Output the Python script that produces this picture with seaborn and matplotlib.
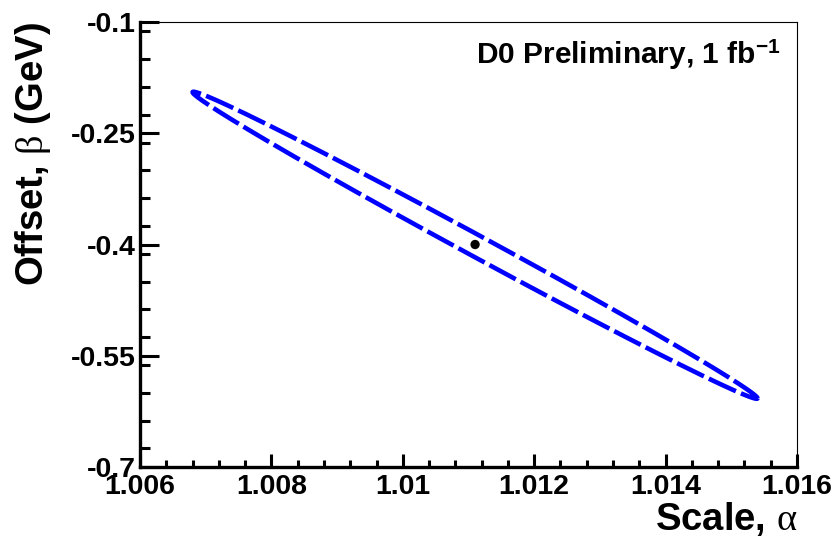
import numpy as np
import pandas as pd
import matplotlib
matplotlib.use("Agg")
import matplotlib.pyplot as plt
from matplotlib.ticker import MultipleLocator, FixedLocator
import seaborn as sns

# ---- data ----
fit_alpha = [1.0111]          # best-fit scale
fit_beta = [-0.400]           # best-fit offset (GeV)
contour_center = [1.0111, -0.401]
sigma_alpha = 0.0043
sigma_beta = 0.207
correlation = -0.9969
x_ticks = [1.006, 1.008, 1.010, 1.012, 1.014, 1.016]
x_tick_labels = ["1.006", "1.008", "1.01", "1.012", "1.014", "1.016"]
y_ticks = [-0.7, -0.55, -0.4, -0.25, -0.1]
y_tick_labels = ["-0.7", "-0.55", "-0.4", "-0.25", "-0.1"]

# 1-sigma error contour from the fit parameters
t = np.linspace(0, 2 * np.pi, 721)
cx = contour_center[0] + sigma_alpha * np.cos(t)
cy = contour_center[1] + sigma_beta * (correlation * np.cos(t)
                                       + np.sqrt(1 - correlation ** 2) * np.sin(t))
contour = pd.DataFrame({"alpha": cx, "beta": cy})
best = pd.DataFrame({"alpha": fit_alpha, "beta": fit_beta})

sns.set_theme(style="white")
plt.rcParams["font.family"] = ["Liberation Sans", "DejaVu Sans"]
plt.rcParams["mathtext.fontset"] = "custom"
plt.rcParams["mathtext.rm"] = "Liberation Serif"
plt.rcParams["mathtext.it"] = "Liberation Serif"
plt.rcParams["mathtext.bf"] = "Liberation Sans:bold"

fig = plt.figure(figsize=(8.37, 5.45), dpi=100)
ax = fig.add_axes([0.1673, 0.1431, 0.7849, 0.8165])

sns.lineplot(data=contour, x="alpha", y="beta", sort=False, estimator=None,
             color="#0000ff", linewidth=3.3, linestyle=(0, (6.5, 1.2)), ax=ax)
sns.scatterplot(data=best, x="alpha", y="beta", color="black", s=45,
                edgecolor="none", ax=ax, zorder=5)

ax.set_xlim(1.006, 1.016)
ax.set_ylim(-0.7, -0.1)
ax.xaxis.set_major_locator(FixedLocator(x_ticks))
ax.yaxis.set_major_locator(FixedLocator(y_ticks))
ax.set_xticklabels(x_tick_labels)
ax.set_yticklabels(y_tick_labels)
ax.xaxis.set_minor_locator(MultipleLocator(0.0004))
ax.yaxis.set_minor_locator(MultipleLocator(0.0375))

for side in ["left", "bottom"]:
    ax.spines[side].set_linewidth(2.4)
    ax.spines[side].set_color("black")
for side in ["top", "right"]:
    ax.spines[side].set_linewidth(0.8)
    ax.spines[side].set_color("black")

ax.tick_params(axis="both", which="both", direction="in", color="black",
               width=2.2, bottom=True, left=True, top=False, right=False)
ax.tick_params(axis="x", which="major", length=9.5, pad=5)
ax.tick_params(axis="x", which="minor", length=5)
ax.tick_params(axis="y", which="major", length=14, pad=3)
ax.tick_params(axis="y", which="minor", length=7)
for lab in ax.get_xticklabels() + ax.get_yticklabels():
    lab.set_fontweight("bold")
    lab.set_fontsize(20.5)
    lab.set_color("black")

ax.set_xlabel("")
ax.set_ylabel("")
fig.text(0.9522, 0.012, r"Scale, $\alpha$", ha="right", va="bottom",
         fontsize=27.5, fontweight="bold", color="black")
fig.text(0.039, 0.9596, r"Offset, $\beta$ (GeV)", ha="center", va="top",
         rotation=90, fontsize=27.5, fontweight="bold", color="black")
ax.text(0.975, 0.925, r"D0 Preliminary, 1 fb$^{\mathbf{-1}}$", transform=ax.transAxes,
        ha="right", va="center", fontsize=21.5, fontweight="bold", color="black")

fig.savefig("out.png", dpi=100)
